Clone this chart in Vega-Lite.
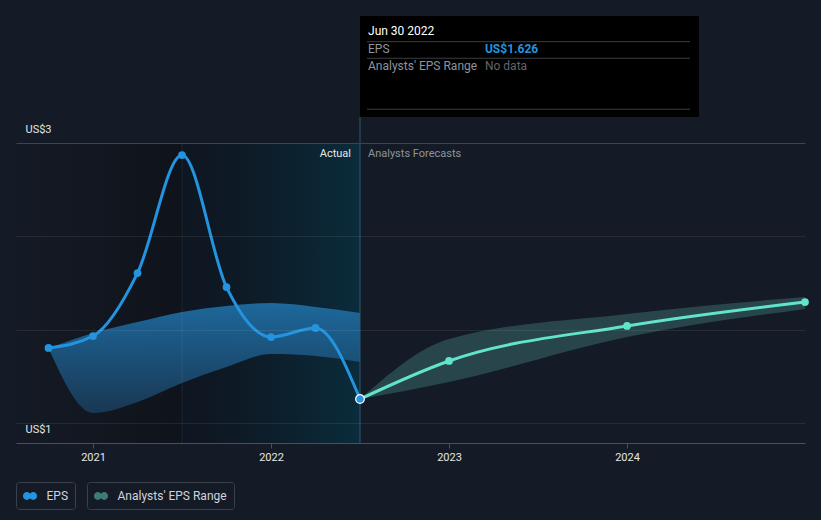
{
  "$schema": "https://vega.github.io/schema/vega-lite/v6.json",
  "width": 789,
  "height": 427,
  "autosize": {"type": "none"},
  "padding": {"left": 16, "top": 16, "right": 16, "bottom": 77},
  "background": "#151b26",
  "config": {"view": {"stroke": null}, "font": "Roboto"},
  "datasets": {
    "actual": [
      {"date": "2020-09-30", "t": 2020.75, "eps": 1.536},
      {"date": "2020-12-31", "t": 2021.0, "eps": 1.621},
      {"date": "2021-03-31", "t": 2021.25, "eps": 2.071},
      {"date": "2021-06-30", "t": 2021.5, "eps": 2.914},
      {"date": "2021-09-30", "t": 2021.75, "eps": 1.971},
      {"date": "2021-12-31", "t": 2022.0, "eps": 1.614},
      {"date": "2022-03-31", "t": 2022.25, "eps": 1.679},
      {"date": "2022-06-30", "t": 2022.5, "eps": 1.171}
    ],
    "forecast": [
      {"date": "2022-06-30", "t": 2022.5, "eps": 1.171},
      {"date": "2022-12-31", "t": 2023.0, "eps": 1.443},
      {"date": "2023-12-31", "t": 2024.0, "eps": 1.693},
      {"date": "2024-12-31", "t": 2025.0, "eps": 1.864}
    ],
    "pastRange": [
      {"t": 2020.75, "low": 1.533, "high": 1.533},
      {"t": 2021.0, "low": 1.071, "high": 1.643},
      {"t": 2021.25, "low": 1.15, "high": 1.721},
      {"t": 2021.5, "low": 1.286, "high": 1.793},
      {"t": 2021.75, "low": 1.4, "high": 1.836},
      {"t": 2022.0, "low": 1.493, "high": 1.857},
      {"t": 2022.25, "low": 1.479, "high": 1.829},
      {"t": 2022.5, "low": 1.436, "high": 1.786}
    ],
    "fcRange": [
      {"t": 2022.5, "low": 1.171, "high": 1.171},
      {"t": 2023.0, "low": 1.293, "high": 1.6},
      {"t": 2024.0, "low": 1.614, "high": 1.779},
      {"t": 2025.0, "low": 1.814, "high": 1.9}
    ],
    "last": [
      {"date": "2022-06-30", "t": 2022.5, "eps": 1.171}
    ]
  },
  "layer": [
    {
      "data": {"values": [{}]},
      "mark": {"type": "rect", "fill": {"gradient": "linear", "x1": 0, "y1": 0, "x2": 1, "y2": 0, "stops": [{"offset": 0, "color": "rgba(0,0,0,0.03)"}, {"offset": 1, "color": "rgba(0,0,0,0.3)"}]}},
      "encoding": {
        "x": {"datum": 2020.5674, "type": "quantitative"},
        "x2": {"datum": 2021.5},
        "y": {"datum": 0.857, "type": "quantitative"},
        "y2": {"datum": 3}
      }
    },
    {
      "data": {"values": [{}]},
      "mark": {"type": "rect", "fill": {"gradient": "linear", "x1": 0, "y1": 0, "x2": 1, "y2": 0, "stops": [{"offset": 0, "color": "rgba(0,10,20,0.3)"}, {"offset": 1, "color": "rgba(0,60,80,0.52)"}]}},
      "encoding": {
        "x": {"datum": 2021.5, "type": "quantitative"},
        "x2": {"datum": 2022.5},
        "y": {"datum": 0.857, "type": "quantitative"},
        "y2": {"datum": 3}
      }
    },
    {
      "data": {"name": "pastRange"},
      "mark": {"type": "area", "interpolate": "monotone", "opacity": 0.9, "fill": {"gradient": "linear", "x1": 0, "y1": 0, "x2": 0, "y2": 1, "stops": [{"offset": 0, "color": "#1f70a8"}, {"offset": 1, "color": "#1a3b59"}]}},
      "encoding": {
        "x": {"field": "t", "type": "quantitative"},
        "y": {"field": "low", "type": "quantitative"},
        "y2": {"field": "high"}
      }
    },
    {
      "data": {"values": [{}]},
      "mark": {"type": "rule", "color": "rgba(120,180,220,0.12)", "strokeWidth": 1},
      "encoding": {
        "x": {"datum": 2021.5, "type": "quantitative"},
        "y": {"datum": 0.857, "type": "quantitative"},
        "y2": {"datum": 3}
      }
    },
    {
      "data": {"name": "fcRange"},
      "mark": {"type": "area", "interpolate": "monotone", "fillOpacity": 0.45},
      "encoding": {
        "x": {"field": "t", "type": "quantitative"},
        "y": {"field": "low", "type": "quantitative"},
        "y2": {"field": "high"},
        "fill": {
          "datum": "Analysts' EPS Range",
          "scale": {"range": ["#3d7a78"]},
          "legend": {
            "orient": "none", "legendX": 71, "legendY": 466, "title": null,
            "symbolType": "M -1,0 A 0.55,0.55 0 1,1 0.1,0 A 0.55,0.55 0 1,1 -1,0 Z M -0.1,0 A 0.55,0.55 0 1,1 1,0 A 0.55,0.55 0 1,1 -0.1,0 Z",
            "symbolSize": 200, "symbolStrokeWidth": 0, "symbolOpacity": 1,
            "labelColor": "#d0d4da", "labelFontSize": 12, "labelFont": "Roboto", "labelOffset": 9,
            "padding": 6.5, "strokeColor": "#3b414b", "cornerRadius": 3, "fillColor": "#151b26"
          }
        }
      }
    },
    {
      "data": {"values": [{}]},
      "mark": {"type": "rule", "color": "#2a5d70", "strokeWidth": 1},
      "encoding": {
        "x": {"datum": 2022.5, "type": "quantitative"},
        "y": {"datum": 0.857, "type": "quantitative"},
        "y2": {"datum": 3.186}
      }
    },
    {
      "data": {"name": "actual"},
      "mark": {"type": "line", "interpolate": "monotone", "color": "#2394df", "strokeWidth": 3},
      "encoding": {
        "x": {
          "field": "t", "type": "quantitative",
          "scale": {"domain": [2020.5674, 2025], "nice": false, "zero": false},
          "axis": {
            "title": null, "values": [2021, 2022, 2023, 2024], "format": "d", "grid": false,
            "domainColor": "#4a4f58", "tickColor": "#4a4f58", "tickSize": 5,
            "labelColor": "#e6e6e6", "labelFontSize": 11, "labelPadding": 3, "labelFlush": false
          }
        },
        "y": {
          "field": "eps", "type": "quantitative",
          "scale": {"domain": [0.857, 3.907], "nice": false, "zero": false},
          "axis": {
            "title": null, "values": [1, 1.6667, 2.3333, 3], "grid": true,
            "gridColor": {"condition": {"test": "datum.value >= 2.9", "value": "#3e444d"}, "value": "rgba(255,255,255,0.08)"},
            "gridWidth": 1, "domain": false, "ticks": false, "tickSize": 0,
            "labelExpr": "datum.value == 1 ? 'US$1' : (datum.value == 3 ? 'US$3' : '')",
            "labelAlign": "left", "labelBaseline": "middle", "labelPadding": -9,
            "labelOffset": {"condition": {"test": "datum.value < 2", "value": 7}, "value": -13},
            "labelColor": "#e6e6e6", "labelFontSize": 11, "zindex": 1
          }
        }
      }
    },
    {
      "data": {"name": "forecast"},
      "mark": {"type": "line", "interpolate": "monotone", "color": "#62e3cc", "strokeWidth": 3},
      "encoding": {
        "x": {"field": "t", "type": "quantitative"},
        "y": {"field": "eps", "type": "quantitative"}
      }
    },
    {
      "data": {"name": "actual"},
      "transform": [{"filter": "datum.t < 2022.5"}],
      "mark": {"type": "point", "filled": true, "size": 60, "opacity": 1},
      "encoding": {
        "x": {"field": "t", "type": "quantitative"},
        "y": {"field": "eps", "type": "quantitative"},
        "color": {
          "datum": "EPS",
          "scale": {"range": ["#2394df"]},
          "legend": {
            "orient": "none", "legendX": 0, "legendY": 466, "title": null,
            "symbolType": "M -1,0 A 0.55,0.55 0 1,1 0.1,0 A 0.55,0.55 0 1,1 -1,0 Z M -0.1,0 A 0.55,0.55 0 1,1 1,0 A 0.55,0.55 0 1,1 -0.1,0 Z",
            "symbolSize": 200, "symbolStrokeWidth": 0, "symbolOpacity": 1,
            "labelColor": "#d0d4da", "labelFontSize": 12, "labelFont": "Roboto", "labelOffset": 9,
            "padding": 6.5, "strokeColor": "#3b414b", "cornerRadius": 3, "fillColor": "#151b26"
          }
        }
      }
    },
    {
      "data": {"name": "forecast"},
      "transform": [{"filter": "datum.t > 2022.5"}],
      "mark": {"type": "point", "filled": true, "size": 60, "opacity": 1, "color": "#62e3cc"},
      "encoding": {
        "x": {"field": "t", "type": "quantitative"},
        "y": {"field": "eps", "type": "quantitative"}
      }
    },
    {
      "data": {"name": "last"},
      "mark": {"type": "point", "filled": true, "size": 75, "opacity": 1, "fill": "#2394df", "stroke": "#ffffff", "strokeWidth": 1.2},
      "encoding": {
        "x": {"field": "t", "type": "quantitative"},
        "y": {"field": "eps", "type": "quantitative"}
      }
    },
    {
      "data": {"values": [{}]},
      "mark": {"type": "text", "text": "Actual", "align": "right", "baseline": "middle", "dx": -9, "fontSize": 11, "color": "#e8e8e8"},
      "encoding": {
        "x": {"datum": 2022.5, "type": "quantitative"},
        "y": {"datum": 2.921, "type": "quantitative"}
      }
    },
    {
      "data": {"values": [{}]},
      "mark": {"type": "text", "text": "Analysts Forecasts", "align": "left", "baseline": "middle", "dx": 8, "fontSize": 11, "color": "#8d939b"},
      "encoding": {
        "x": {"datum": 2022.5, "type": "quantitative"},
        "y": {"datum": 2.921, "type": "quantitative"}
      }
    },
    {
      "data": {"values": [{}]},
      "mark": {"type": "rect", "fill": "#000000"},
      "encoding": {
        "x": {"datum": 2022.5, "type": "quantitative"},
        "x2": {"datum": 2024.4045},
        "y": {"datum": 3.186, "type": "quantitative"},
        "y2": {"datum": 3.907}
      }
    },
    {
      "data": {"values": [{"v": 3.7236}, {"v": 3.605}, {"v": 3.241}]},
      "mark": {"type": "rule", "color": "#3a3d42", "strokeWidth": 1},
      "encoding": {
        "x": {"datum": 2022.539, "type": "quantitative"},
        "x2": {"datum": 2024.354},
        "y": {"field": "v", "type": "quantitative"}
      }
    },
    {
      "data": {"values": [{}]},
      "mark": {"type": "text", "text": "Jun 30 2022", "align": "left", "baseline": "middle", "fontSize": 12, "color": "#ffffff"},
      "encoding": {
        "x": {"datum": 2022.545, "type": "quantitative"},
        "y": {"datum": 3.8, "type": "quantitative"}
      }
    },
    {
      "data": {"values": [{}]},
      "mark": {"type": "text", "text": "EPS", "align": "left", "baseline": "middle", "fontSize": 12, "color": "#8e949c"},
      "encoding": {
        "x": {"datum": 2022.545, "type": "quantitative"},
        "y": {"datum": 3.669, "type": "quantitative"}
      }
    },
    {
      "data": {"values": [{}]},
      "mark": {"type": "text", "text": "US$1.626", "align": "left", "baseline": "middle", "fontSize": 12, "fontWeight": "bold", "color": "#2394df"},
      "encoding": {
        "x": {"datum": 2023.202, "type": "quantitative"},
        "y": {"datum": 3.669, "type": "quantitative"}
      }
    },
    {
      "data": {"values": [{}]},
      "mark": {"type": "text", "text": "Analysts' EPS Range", "align": "left", "baseline": "middle", "fontSize": 12, "color": "#8e949c"},
      "encoding": {
        "x": {"datum": 2022.545, "type": "quantitative"},
        "y": {"datum": 3.55, "type": "quantitative"}
      }
    },
    {
      "data": {"values": [{}]},
      "mark": {"type": "text", "text": "No data", "align": "left", "baseline": "middle", "fontSize": 12, "color": "#60656d"},
      "encoding": {
        "x": {"datum": 2023.202, "type": "quantitative"},
        "y": {"datum": 3.55, "type": "quantitative"}
      }
    }
  ]
}
